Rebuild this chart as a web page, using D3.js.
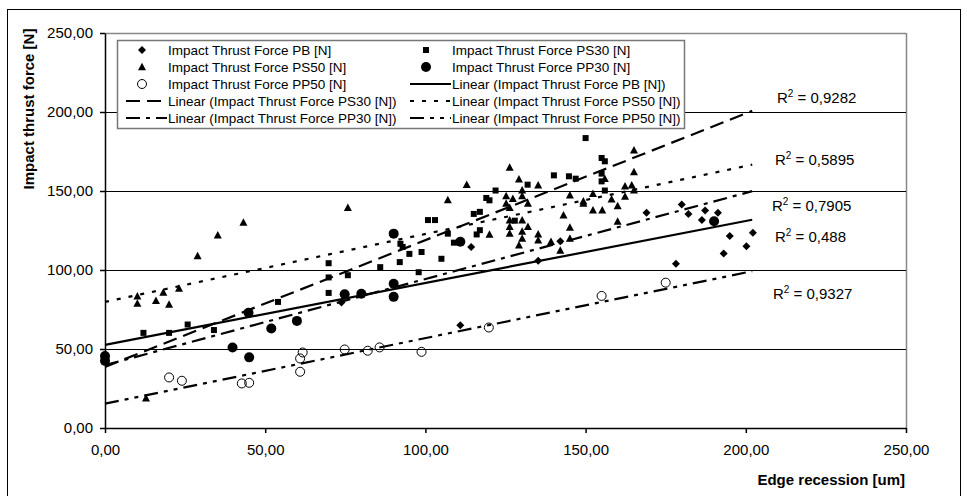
<!DOCTYPE html>
<html><head><meta charset="utf-8">
<script src="https://cdn.jsdelivr.net/npm/d3@7"></script>
<style>body{margin:0;background:#fff}svg{display:block;font-family:"Liberation Sans",Arial,sans-serif}</style>
</head><body><svg id="c" width="967" height="496"></svg>
<script>
const xTicks=[0,50,100,150,200,250];
const yTicks=[0,50,100,150,200,250];
const seriesNames=["Impact Thrust Force PB [N]","Impact Thrust Force PS30 [N]","Impact Thrust Force PS50 [N]","Impact Thrust Force PP30 [N]","Impact Thrust Force PP50 [N]"];
const dataPB=[[73.8,79.5],[110.9,65.1],[114.3,114.6],[135.2,105.9],[142.1,118.2],[169,136.2],[178.2,104],[180,141.4],[182.1,135.5],[186.3,131.7],[187.3,137.6],[191.3,136.2],[193.1,110.4],[195,121.5],[200.2,115],[202.2,123.5]];
const dataPS30=[[12,60.2],[20,60.2],[25.8,65.5],[34,62],[54,79.8],[69.8,104.3],[69.8,95.3],[69.8,85.5],[75.8,96.7],[85.9,101.8],[92,105],[95,110.2],[98.8,111.4],[92.2,116.6],[92.9,114.6],[97.9,98.6],[100.8,131.6],[103,131.6],[105,107.1],[107,123],[108.9,117.3],[115.1,135.5],[117,136.8],[116,122.5],[117,125.2],[119,145.6],[120,144.1],[121.9,150.3],[127.9,131.2],[131.9,154],[140.1,159.9],[144.8,159.3],[146.9,157.8],[150,183.5],[155,170.9],[156,168.8],[155,161],[155,156.1],[156,150.3]];
const dataPS50=[[10.1,83.4],[10.1,78.8],[12.8,18.8],[15.9,80.5],[18.2,85.8],[20,78.2],[23.1,88.3],[28.9,108.9],[35.2,122],[43.2,130],[75.8,139.3],[107,144.3],[112.9,154],[120,122.5],[125.2,146.8],[125.2,142],[126.3,164.8],[126.3,139.3],[126.3,131.5],[126.3,127.3],[126.3,123.1],[127.3,145.1],[129.2,157.4],[129.2,115.7],[130.2,150.4],[130.2,146.8],[130.2,131.5],[130.2,124.3],[130.2,119.9],[132,142],[132,127.3],[135.2,153.6],[135.2,122.6],[135.2,118.8],[139.2,117.9],[142.1,112.3],[143.1,134.6],[145.1,147.3],[145.1,126.8],[145.1,119.9],[149.3,143.5],[149.3,142],[152.3,148.3],[152.3,137.8],[155.2,137.8],[156,157.8],[158.1,144.8],[160,140.5],[160,130.7],[162.3,153],[162.3,146.5],[164.4,153.6],[165.1,150.4],[165.1,175.7],[165.1,162]];
const dataPP30=[[0,45.5],[0,42.5],[39.8,51],[44.8,72.9],[45,44.7],[51.9,63],[59.9,67.8],[74.8,84.6],[80,85],[90.1,91.3],[90.1,83],[90.1,123],[110.9,117.9],[190.1,130.9]];
const dataPP50=[[20,32],[24,29.9],[42.7,28.2],[45,28.6],[60.9,35.6],[60.9,44],[61.7,47.8],[74.8,49.7],[82,48.9],[85.7,51],[98.8,48.2],[119.8,63.6],[155,83.6],[175,92]];
// trendlines (PB, PS30, PS50, PP30, PP50)
const trendIntercepts=[52.6,38.7,79.8,39.8,15.4];
const trendSlopes=[0.392,0.802,0.430,0.545,0.415];
const trendXRange=[0,202];
const r2Labels=["0,488","0,9282","0,5895","0,7905","0,9327"];

const svg=d3.select("#c");
const W=967,H=496;
svg.append("rect").attr("x",0).attr("y",0).attr("width",W).attr("height",H).attr("fill","#fff");
svg.append("rect").attr("x",7.5).attr("y",9.5).attr("width",953).attr("height",500).attr("fill","none").attr("stroke","#000").attr("stroke-width",1);

const x=d3.scaleLinear().domain([0,250]).range([105,906]);
const y=d3.scaleLinear().domain([0,250]).range([428,33]);
const fmt=v=>d3.format(".2f")(v).replace(".",",");

// plot frame (grey) top & right
svg.append("line").attr("x1",x(0)).attr("x2",x(250)).attr("y1",y(250)+0.5).attr("y2",y(250)+0.5).attr("stroke","#888").attr("stroke-width",1.5);
svg.append("line").attr("x1",x(250)+0.5).attr("x2",x(250)+0.5).attr("y1",y(250)).attr("y2",y(0)).attr("stroke","#888").attr("stroke-width",1.5);
// gridlines
svg.append("g").selectAll("line").data(yTicks.filter(d=>d>0&&d<250)).join("line")
 .attr("x1",x(0)).attr("x2",x(250)).attr("y1",d=>Math.round(y(d))+0.5).attr("y2",d=>Math.round(y(d))+0.5)
 .attr("stroke","#000").attr("stroke-width",1);

const ax=svg.append("g").attr("transform",`translate(0,${y(0)})`).call(d3.axisBottom(x).tickValues(xTicks).tickFormat(fmt).tickSize(5).tickSizeOuter(0).tickPadding(11));
const ay=svg.append("g").attr("transform",`translate(${x(0)},0)`).call(d3.axisLeft(y).tickValues(yTicks).tickFormat(fmt).tickSize(5).tickSizeOuter(0).tickPadding(7));
[ax,ay].forEach(a=>{a.selectAll("text").attr("font-size",15).attr("fill","#000").attr("font-family","Liberation Sans, Arial");a.selectAll("line,path").attr("stroke","#000").attr("stroke-width",1.5);});

// axis titles
svg.append("text").attr("x",905).attr("y",485).attr("text-anchor","end").attr("font-size",15).attr("font-weight","bold").text("Edge recession [um]");
svg.append("text").attr("transform","translate(34,109) rotate(-90)").attr("text-anchor","middle").attr("font-size",15).attr("font-weight","bold").text("Impact thrust force [N]");

// trendlines
const dashes=[null,"14,7","4,8","14,6,4,6","14,6,4,6,4,6"];
const tl=svg.append("g");
trendIntercepts.forEach((b,i)=>{
  tl.append("line").attr("x1",x(trendXRange[0])).attr("y1",y(b+trendSlopes[i]*trendXRange[0]))
   .attr("x2",x(trendXRange[1])).attr("y2",y(b+trendSlopes[i]*trendXRange[1]))
   .attr("stroke","#000").attr("stroke-width",2.2).attr("stroke-dasharray",dashes[i]);
});

// markers
function marker(g,type,cx,cy){
  if(type===0){g.append("path").attr("d",`M${cx},${cy-4}L${cx+4},${cy}L${cx},${cy+4}L${cx-4},${cy}Z`).attr("fill","#000");}
  else if(type===1){g.append("rect").attr("x",cx-3).attr("y",cy-3).attr("width",6).attr("height",6).attr("fill","#000");}
  else if(type===2){g.append("path").attr("d",`M${cx},${cy-4.3}L${cx+4},${cy+3.2}L${cx-4},${cy+3.2}Z`).attr("fill","#000");}
  else if(type===3){g.append("circle").attr("cx",cx).attr("cy",cy).attr("r",5).attr("fill","#000");}
  else {g.append("circle").attr("cx",cx).attr("cy",cy).attr("r",4.5).attr("fill","#fff").attr("fill-opacity",0).attr("stroke","#000").attr("stroke-width",1);}
}
const allData=[dataPB,dataPS30,dataPS50,dataPP30,dataPP50];
const mg=svg.append("g");
allData.forEach((ds,i)=>ds.forEach(d=>marker(mg,i,x(d[0]),y(d[1]))));

// R² labels
const r2Pos=[[775,242],[777,103],[775,165],[772,211],[773,299]];
r2Labels.forEach((t,i)=>{
  const tx=svg.append("text").attr("x",r2Pos[i][0]).attr("y",r2Pos[i][1]).attr("font-size",15);
  tx.append("tspan").text("R");
  tx.append("tspan").attr("font-size",10).attr("dy",-6).text("2");
  tx.append("tspan").attr("dy",6).text(" = "+t);
});

// legend
const lg=svg.append("g");
lg.append("rect").attr("x",117.5).attr("y",40.5).attr("width",567).attr("height",88).attr("fill","#fff").attr("stroke","#777").attr("stroke-width",1.5);
const entries=[
 {t:seriesNames[0],m:0},{t:seriesNames[1],m:1},
 {t:seriesNames[2],m:2},{t:seriesNames[3],m:3},
 {t:seriesNames[4],m:4},{t:"Linear ("+seriesNames[0]+")",l:0},
 {t:"Linear ("+seriesNames[1]+")",l:1},{t:"Linear ("+seriesNames[2]+")",l:2},
 {t:"Linear ("+seriesNames[3]+")",l:3},{t:"Linear ("+seriesNames[4]+")",l:4}];
const colX=[126,410], textX=[168,452], rowY=[50,67,84,101,118];
entries.forEach((e,k)=>{
  const c=k%2, r=Math.floor(k/2);
  const cy=rowY[r];
  if(e.m!==undefined) marker(lg,e.m,colX[c]+16,cy);
  else lg.append("line").attr("x1",colX[c]).attr("x2",textX[c]-1).attr("y1",cy).attr("y2",cy).attr("stroke","#000").attr("stroke-width",2.2).attr("stroke-dasharray",dashes[e.l]);
  lg.append("text").attr("x",textX[c]).attr("y",cy+5).attr("font-size",13.5).text(e.t);
});
</script></body></html>
